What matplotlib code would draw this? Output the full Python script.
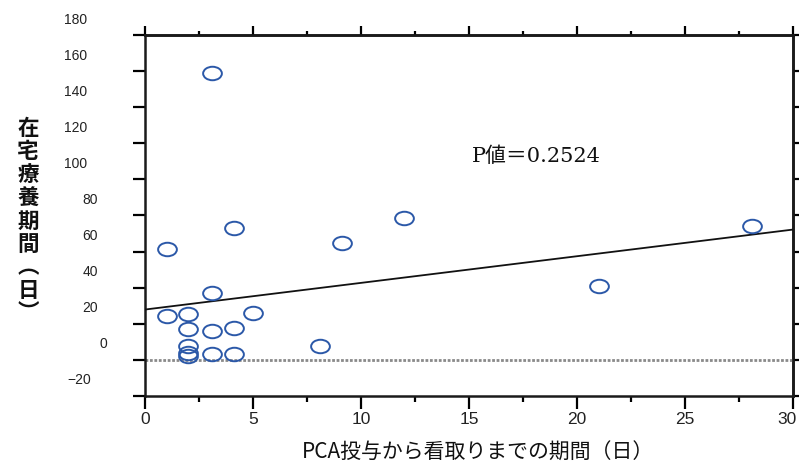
import numpy as np
import matplotlib.pyplot as plt
from matplotlib.path import Path
from matplotlib.transforms import Affine2D, ScaledTranslation

# data
days_pca_to_death = [1, 1, 2, 2, 2, 2, 2, 3.1, 3.1, 3.1, 3.1,
                     4.1, 4.1, 4.1, 5, 8.1, 9.1, 12, 21, 28.1]
home_care_days = [61.5, 24.2, 25.5, 17.3, 7.9, 3.9, 2.0, 159, 37, 16, 3.3,
                  73, 17.6, 3.3, 26, 7.6, 64.5, 78.5, 41, 74.2]
fit_intercept = 27.9
fit_slope = 1.477
p_text = "P値＝0.2524"

x_ticks = [0, 5, 10, 15, 20, 25, 30]
x_ticklabels = ["0", "5", "10", "15", "20", "25", "30"]
y_ticks = [-20, 0, 20, 40, 60, 80, 100, 120, 140, 160, 180]
y_ticklabels = ["\u221220", "0", "20", "40", "60", "80", "100", "120", "140", "160", "180"]

xlabel = "PCA投与から看取りまでの期間（日）"
ylabel = "在宅療養期間（日）"

# label right edges (px) as laid out in the original
ylabel_right_px = [91, 107, 98, 98, 98, 98, 87, 87, 87, 87, 87]

fig = plt.figure(figsize=(7.99, 4.67), dpi=100)
ax = fig.add_axes([145 / 799, 1 - 396 / 467, 648 / 799, 361 / 467])

# open ellipse marker
ellipse = Path.unit_circle().transformed(Affine2D().scale(1.0, 0.72))
ax.plot(days_pca_to_death, home_care_days, linestyle="none", marker=ellipse,
        markersize=13.5, markerfacecolor="none", markeredgecolor="#2b58a8",
        markeredgewidth=1.4, zorder=4)

xx = np.array([0, 30])
ax.plot(xx, fit_intercept + fit_slope * xx, color="#111111", lw=1.3, zorder=3)
ax.axhline(0, color="#8a8a8a", lw=2.0, linestyle=(0, (1, 0.6)), zorder=2)

ax.set_xlim(0, 30)
ax.set_ylim(-20, 180)

for s in ax.spines.values():
    s.set_linewidth(1.8)
    s.set_color("#1a1a1a")

ax.set_xticks(x_ticks)
ax.set_xticklabels(x_ticklabels, family=["Liberation Sans Narrow", "Liberation Sans"],
                   fontsize=12.5, color="#222222")
ax.set_xticks(np.arange(2.5, 30, 5), minor=True)
ax.tick_params(axis="x", which="major", direction="out", length=9.5, width=1.6, pad=2)
ax.tick_params(axis="x", which="minor", direction="out", length=4.5, width=1.6)
last = ax.get_xticklabels()[-1]
last.set_transform(last.get_transform() + ScaledTranslation(-6 / 100, 0, fig.dpi_scale_trans))

ax.set_yticks(y_ticks)
ax.set_yticklabels(y_ticklabels, family="Liberation Sans", fontsize=10, color="#222222")
ax.tick_params(axis="y", direction="out", length=8.6, width=1.6, pad=0)
for lab, right in zip(ax.get_yticklabels(), ylabel_right_px):
    dx = (right - 133) / 100
    lab.set_transform(lab.get_transform() + ScaledTranslation(dx, 17 / 100, fig.dpi_scale_trans))

# ticks on top and right
top = ax.secondary_xaxis("top")
top.set_xticks(x_ticks, labels=[])
top.set_xticks(np.arange(2.5, 30, 5), minor=True)
top.tick_params(which="major", direction="out", length=6.5, width=1.6)
top.tick_params(which="minor", direction="out", length=3, width=1.6)
top.spines["top"].set_linewidth(1.8)

right = ax.secondary_yaxis("right")
right.set_yticks(y_ticks, labels=[])
right.tick_params(direction="out", length=5, width=1.6)
right.spines["right"].set_linewidth(1.8)

ax.text(18.1, 113, p_text, ha="center", va="center", fontsize=15,
        family=["DejaVu Serif", "Noto Sans CJK JP"], color="#111111")

fig.text(478 / 799, 1 - 453 / 467, xlabel, ha="center", va="center", fontsize=15,
         family=["Noto Sans CJK JP"], color="#111111")

vertical = "\n".join(ylabel.replace("（", "\ufe35").replace("）", "\ufe36"))
fig.text(28 / 799, 1 - 221 / 467, vertical, ha="center", va="center", fontsize=15.5,
         family=["Noto Sans CJK JP"], weight="bold", linespacing=1.12, color="#111111")

fig.savefig("out.png", dpi=100)
